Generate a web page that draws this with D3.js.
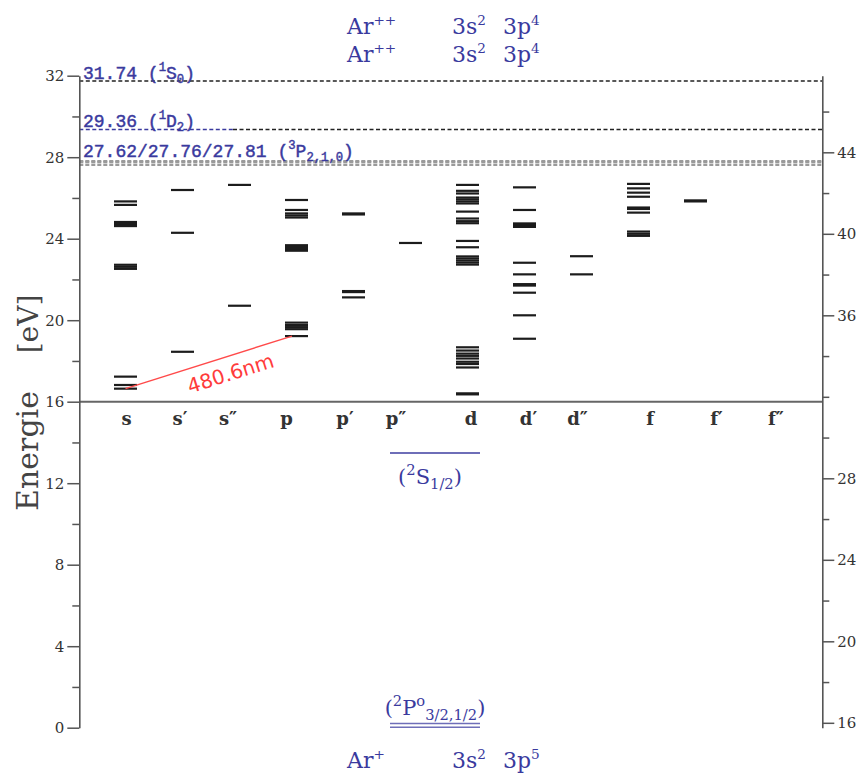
<!DOCTYPE html>
<html><head><meta charset="utf-8">
<script src="https://cdn.jsdelivr.net/npm/d3@7"></script>
<style>body{margin:0;background:#fff}svg{display:block}</style>
</head><body>
<svg id="chart" width="861" height="775"></svg>
<script>
// ---------------- data ----------------
const columns = ["s", "s′", "s″", "p", "p′", "p″", "d", "d′", "d″", "f", "f′", "f″"];
const levelsS   = [25.83, 25.66, 24.82, 24.72, 24.62, 22.72, 22.62, 22.52, 17.23, 16.82, 16.64];
const levelsSp  = [26.39, 24.29, 18.45];
const levelsSpp = [26.64, 20.71];
const levelsP   = [25.90, 25.41, 25.24, 25.14, 25.04, 23.68, 23.59, 23.50, 23.41, 19.88, 19.76, 19.66, 19.56, 19.22];
const levelsPp  = [25.24, 25.19, 21.43, 21.38, 21.12];
const levelsPpp = [23.79];
const levelsD   = [26.64, 26.35, 26.22, 26.02, 25.93, 25.83, 25.73, 25.33, 24.99, 24.86, 24.76, 23.89, 23.58,
                   23.13, 23.03, 22.93, 22.83, 22.73, 18.67, 18.51, 18.36, 18.25, 18.12, 17.96, 17.85, 17.68, 16.41, 16.36];
const levelsDp  = [26.52, 25.41, 24.75, 24.67, 24.58, 22.82, 22.25, 21.77, 21.70, 21.35, 20.24, 19.09];
const levelsDpp = [23.14, 22.25];
const levelsF   = [26.69, 26.47, 26.26, 26.06, 25.53, 25.46, 25.28, 24.35, 24.24, 24.14];
const levelsFp  = [25.88, 25.83];
const levelsFpp = [];
const levelsByColumn = [levelsS, levelsSp, levelsSpp, levelsP, levelsPp, levelsPpp,
                        levelsD, levelsDp, levelsDpp, levelsF, levelsFp, levelsFpp];

const ionLimitMain = [31.74, 29.36];                 // Ar++ 1S0, 1D2
const ionLimitTriplet = [27.62, 27.76, 27.81];       // Ar++ 3P2,1,0
const ionOffset = 15.76;                              // Ar first ionisation energy (right axis)
const columnFloor = 16;
const stateS = 13.48;                                  // 3s3p6 2S1/2
const groundLevels = [0, 0.178];                       // 2P°3/2, 1/2
const transitionFrom = ["s", 16.64];
const transitionTo = ["p", 19.22];
const transitionLabel = "480.6nm";

const leftTickValues = d3.range(0, 33, 2);
const leftTickLabels = [0, 4, 8, 12, 16, 20, 24, 28, 32];
const rightTickValues = d3.range(16, 47, 2);
const rightTickLabels = [16, 20, 24, 28, 36, 40, 44];

// ---------------- layout ----------------
const X0 = 79.3, X1 = 822.3;
const svg = d3.select("#chart");
const blue = "#3a3a9e";
const y = d3.scaleLinear().domain([0, 32]).range([727.7, 75.7]);
const yR = d3.scaleLinear().domain([ionOffset, 32 + ionOffset]).range(y.range());
const x = d3.scalePoint().domain(columns).range([125.5, 752.5]);
const barW = 23;
const labelDx = [1, -2.5, -11.5, -10, -8.5, -14.5, 3.5, 4, -4, 11.5, 21, 23.5];

function rich(sel, parts, fs, k) {
  k = k || 0.62;
  let cur = 0;
  parts.forEach(p => {
    let target = 0, size = fs;
    if (p.sup) { target = -fs * 0.42; size = fs * k; }
    if (p.sub) { target = fs * 0.22; size = fs * k; }
    const t = sel.append("tspan").text(p.t).attr("font-size", size);
    if (target !== cur) { t.attr("dy", target - cur); cur = target; }
  });
}

// ion limit dashed lines
svg.append("g").selectAll("line").data(ionLimitTriplet).join("line")
  .attr("x1", X0).attr("x2", X1)
  .attr("y1", d => y(d)).attr("y2", d => y(d))
  .attr("stroke", "#9a9a9a").attr("stroke-width", 2.2).attr("stroke-dasharray", "4,2");
svg.append("g").selectAll("line").data(ionLimitMain).join("line")
  .attr("x1", (d, i) => i === 1 ? 233 : X0).attr("x2", X1)
  .attr("y1", d => y(d)).attr("y2", d => y(d))
  .attr("stroke", "#222").attr("stroke-width", 1.3).attr("stroke-dasharray", "4,2.5");
svg.append("line").attr("x1", X0).attr("x2", 233)
  .attr("y1", y(ionLimitMain[1])).attr("y2", y(ionLimitMain[1]))
  .attr("stroke", blue).attr("stroke-width", 1.3).attr("stroke-dasharray", "4,2.5");

// ion limit labels
const limFont = "'Liberation Mono', monospace";
function limLabel(yy, parts) {
  const t = svg.append("text").attr("x", 83).attr("y", yy)
    .attr("fill", blue).attr("stroke", blue).attr("stroke-width", 0.45)
    .attr("font-family", limFont).attr("font-size", 18);
  rich(t, parts, 18, 0.68);
}
limLabel(y(ionLimitMain[0]) - 2, [{t: ionLimitMain[0].toFixed(2) + " ("}, {t: "1", sup: 1}, {t: "S"}, {t: "0", sub: 1}, {t: ")"}]);
limLabel(y(ionLimitMain[1]) - 2.5, [{t: ionLimitMain[1].toFixed(2) + " ("}, {t: "1", sup: 1}, {t: "D"}, {t: "2", sub: 1}, {t: ")"}]);
limLabel(y(ionLimitTriplet[2]) - 4.5, [{t: ionLimitTriplet.map(v => v.toFixed(2)).join("/") + " ("}, {t: "3", sup: 1}, {t: "P"}, {t: "2,1,0", sub: 1}, {t: ")"}]);

// column floor line
svg.append("line").attr("x1", X0).attr("x2", X1)
  .attr("y1", y(columnFloor)).attr("y2", y(columnFloor))
  .attr("stroke", "#666").attr("stroke-width", 2);

// levels
const lv = svg.append("g");
columns.forEach((c, i) => {
  lv.selectAll(null).data(levelsByColumn[i]).join("line")
    .attr("x1", x(c) - barW / 2).attr("x2", x(c) + barW / 2)
    .attr("y1", d => y(d)).attr("y2", d => y(d))
    .attr("stroke", "#1c1c1c").attr("stroke-width", 2.2);
});

// column labels
svg.append("g").selectAll("text").data(columns).join("text")
  .attr("x", (d, i) => x(d) + labelDx[i]).attr("y", 425)
  .attr("text-anchor", "middle").attr("font-family", "'DejaVu Serif', serif")
  .attr("font-size", 18).attr("font-weight", "bold").attr("fill", "#333").text(d => d);

// 2S and ground lines (blue)
svg.append("line").attr("x1", 390).attr("x2", 480).attr("y1", y(stateS)).attr("y2", y(stateS))
  .attr("stroke", "#6e6eb8").attr("stroke-width", 2);
svg.append("g").selectAll("line").data(groundLevels).join("line")
  .attr("x1", 390).attr("x2", 480).attr("y1", d => y(d) - 0.5).attr("y2", d => y(d) - 0.5)
  .attr("stroke", "#6e6eb8").attr("stroke-width", 1.6);
const sLab = svg.append("text").attr("x", 430).attr("y", 484).attr("text-anchor", "middle")
  .attr("fill", blue).attr("font-family", "'DejaVu Serif', serif").attr("font-size", 21);
rich(sLab, [{t: "("}, {t: "2", sup: 1}, {t: "S"}, {t: "1/2", sub: 1}, {t: ")"}], 21, 0.7);
const gLab = svg.append("text").attr("x", 435).attr("y", 715).attr("text-anchor", "middle")
  .attr("fill", blue).attr("font-family", "'DejaVu Serif', serif").attr("font-size", 21);
rich(gLab, [{t: "("}, {t: "2", sup: 1}, {t: "P"}, {t: "o", sup: 1}, {t: "3/2,1/2", sub: 1}, {t: ")"}], 21, 0.7);

// transition
const tx1 = x(transitionFrom[0]), ty1 = y(transitionFrom[1]);
const tx2 = x(transitionTo[0]) - 4.5, ty2 = y(transitionTo[1]);
svg.append("line").attr("x1", tx1).attr("y1", ty1).attr("x2", tx2).attr("y2", ty2)
  .attr("stroke", "#ff4a4a").attr("stroke-width", 1.4);
const ang = Math.atan2(ty2 - ty1, tx2 - tx1) * 180 / Math.PI;
const tmx = tx1 + 0.6 * (tx2 - tx1), tmy = ty1 + 0.6 * (ty2 - ty1);
svg.append("text").attr("transform", `translate(${tmx},${tmy}) rotate(${ang})`)
  .attr("y", 24).attr("text-anchor", "middle").attr("fill", "#ff3b3b")
  .attr("font-family", "'DejaVu Sans', sans-serif").attr("font-size", 20).text(transitionLabel);

// axes
const tickFont = "'DejaVu Serif', serif";
const gl = svg.append("g").attr("transform", `translate(${X0},0)`)
  .call(d3.axisLeft(y).tickValues(leftTickValues).tickSize(12).tickSizeOuter(0)
    .tickFormat(d => leftTickLabels.includes(d) ? d : ""));
gl.selectAll(".tick line").filter(d => !leftTickLabels.includes(d)).attr("x2", -7);
const gr = svg.append("g").attr("transform", `translate(${X1},0)`)
  .call(d3.axisRight(yR).tickValues(rightTickValues).tickSize(12).tickSizeOuter(0)
    .tickFormat(d => rightTickLabels.includes(d) ? d : ""));
gr.selectAll(".tick line").filter(d => !rightTickLabels.includes(d)).attr("x2", 7);
[gl, gr].forEach(g => {
  g.select(".domain").attr("stroke", "#555").attr("stroke-width", 1.6);
  g.selectAll(".tick line").attr("stroke", "#555").attr("stroke-width", 1.5);
  g.selectAll(".tick text").attr("fill", "#333").attr("font-family", tickFont).attr("font-size", 15);
});
gl.selectAll(".tick text").attr("x", -15);
gr.selectAll(".tick text").attr("x", 15);

// axis title
svg.append("text").attr("transform", "translate(38,451) rotate(-90)").attr("text-anchor", "middle")
  .attr("font-family", "'DejaVu Serif', serif").attr("font-size", 30).attr("fill", "#444").text("Energie");
svg.append("text").attr("transform", "translate(38,324) rotate(-90)").attr("text-anchor", "middle")
  .attr("font-family", "'DejaVu Serif', serif").attr("font-size", 28).attr("fill", "#444").text("[eV]");

// configuration headers
const hdrFont = "'DejaVu Serif', serif";
function header(yb, ion, conf) {
  const a = svg.append("text").attr("x", 347).attr("y", yb).attr("fill", blue).attr("font-family", hdrFont).attr("font-size", 22);
  rich(a, [{t: "Ar"}, {t: ion, sup: 1}], 22);
  const b = svg.append("text").attr("x", 452).attr("y", yb).attr("fill", blue).attr("font-family", hdrFont).attr("font-size", 22);
  rich(b, [{t: "3s"}, {t: "2", sup: 1}], 22);
  const c = svg.append("text").attr("x", 503).attr("y", yb).attr("fill", blue).attr("font-family", hdrFont).attr("font-size", 22);
  rich(c, [{t: "3p"}, {t: conf, sup: 1}], 22);
}
header(34, "++", "4");
header(62, "++", "4");
header(768, "+", "5");
</script>
</body></html>
